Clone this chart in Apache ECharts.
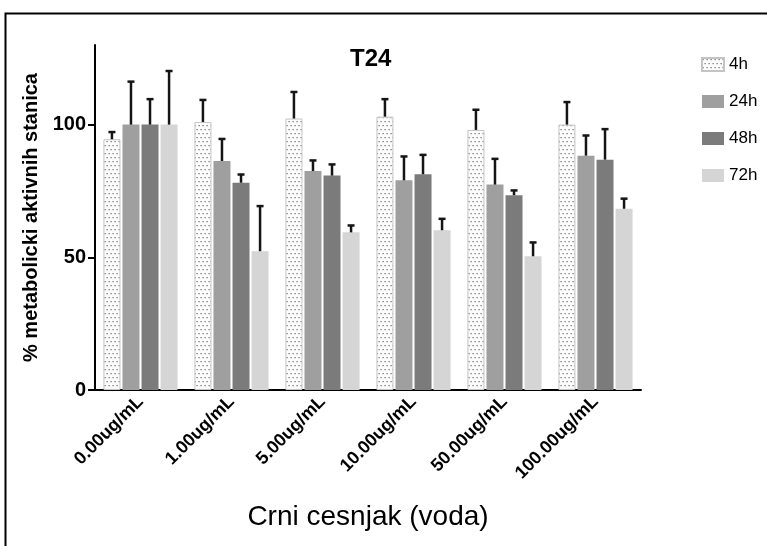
<!DOCTYPE html>
<html>
<head>
<meta charset="utf-8">
<script src="https://cdn.jsdelivr.net/npm/echarts@6/dist/echarts.min.js"></script>
<style>
  body { margin: 0; background: #fff; }
  #chart { width: 767px; height: 546px; }
</style>
</head>
<body>
<div id="chart"></div>
<script>
const categories = ['0.00ug/mL', '1.00ug/mL', '5.00ug/mL', '10.00ug/mL', '50.00ug/mL', '100.00ug/mL']
const timeNames = ['4h', '24h', '48h', '72h']
const mean4h = [94.5, 101, 102.3, 103, 98, 100]
const sd4h = [2.7, 8.3, 10, 6.6, 7.6, 8.5]
const mean24h = [100, 86.3, 82.5, 79, 77.4, 88.3]
const sd24h = [16.2, 8.3, 4, 9, 9.7, 7.6]
const mean48h = [100, 78.1, 80.8, 81.3, 73.4, 86.8]
const sd48h = [9.6, 3.1, 4.2, 7.3, 1.8, 11.5]
const mean72h = [100, 52.3, 59.4, 60.2, 50.4, 68.3]
const sd72h = [20.2, 17, 2.6, 4.3, 5.2, 3.8]
const yTicks = [0, 50, 100]

const means = [mean4h, mean24h, mean48h, mean72h]
const sds = [sd4h, sd24h, sd48h, sd72h]

const font = 'Liberation Sans, Arial, sans-serif'
const barWidth = 17
const barGap = 0.12

// dotted fill for the 4h bars
const dots = document.createElement('canvas')
dots.width = 4
dots.height = 8
const ctx = dots.getContext('2d')
ctx.fillStyle = '#fcfcfc'
ctx.fillRect(0, 0, 4, 8)
ctx.fillStyle = '#6a6a6a'
ctx.fillRect(0.5, 1, 1.2, 1.2)
ctx.fillRect(2.5, 5, 1.2, 1.2)

const fills = [
  { image: dots, repeat: 'repeat' },
  '#9f9f9f',
  '#7b7b7b',
  '#d5d5d5',
]

let seriesData = []
timeNames.forEach((name, i) => {
  let obj = {
    name: name,
    type: 'bar',
    barWidth: barWidth,
    barGap: barGap * 100 + '%',
    data: means[i],
    itemStyle: { color: fills[i] },
  }
  if (i === 0) {
    obj.itemStyle.borderColor = '#c4c4c4'
    obj.itemStyle.borderWidth = 1
  }
  seriesData.push(obj)
})

// upper error bars
timeNames.forEach((name, i) => {
  const offset = (i - 1.5) * barWidth * (1 + barGap)
  seriesData.push({
    name: 'err' + name,
    type: 'custom',
    z: 5,
    data: means[i].map((m, k) => [k, m, sds[i][k]]),
    renderItem: (params, api) => {
      const base = api.coord([api.value(0), api.value(1)])
      const top = api.coord([api.value(0), api.value(1) + api.value(2)])
      const cx = base[0] + offset
      const style = { stroke: '#151515', lineWidth: 2.5 }
      return {
        type: 'group',
        children: [
          { type: 'line', shape: { x1: cx, y1: base[1], x2: cx, y2: top[1] }, style: style },
          { type: 'line', shape: { x1: cx - 3.5, y1: top[1], x2: cx + 3.5, y2: top[1] }, style: style },
        ],
      }
    },
  })
})

const chart = echarts.init(document.getElementById('chart'))
chart.setOption({
  animation: false,
  backgroundColor: '#fff',
  textStyle: { fontFamily: font, color: '#000' },
  title: {
    text: 'T24',
    left: 345,
    top: 42,
    textStyle: { fontSize: 24, fontWeight: 'bold', color: '#000', fontFamily: font },
  },
  legend: {
    data: timeNames,
    orient: 'vertical',
    left: 696,
    top: 51,
    itemWidth: 22,
    itemHeight: 13,
    itemGap: 20,
    icon: 'rect',
    textStyle: { fontSize: 17, color: '#000', fontFamily: font },
  },
  graphic: [
    {
      type: 'polyline',
      shape: { points: [[5.5, 546], [5.5, 13.5], [767, 13.5]] },
      style: { stroke: '#000', lineWidth: 2, fill: null },
    },
  ],
  grid: { left: 95, right: 126, top: 45, bottom: 156 },
  xAxis: {
    type: 'category',
    data: categories,
    name: 'Crni cesnjak (voda)',
    nameLocation: 'middle',
    nameGap: 113,
    nameTextStyle: { fontSize: 28, color: '#000', fontFamily: font },
    axisLine: { lineStyle: { color: '#000', width: 2 } },
    axisTick: { alignWithLabel: true, length: 7, lineStyle: { color: '#000', width: 2 } },
    axisLabel: { rotate: 45, margin: 9, fontSize: 18, fontWeight: 'bold', color: '#000', fontFamily: font },
  },
  yAxis: {
    type: 'value',
    min: 0,
    max: 130,
    interval: 50,
    name: '% metabolicki aktivnih stanica',
    nameLocation: 'middle',
    nameRotate: 90,
    nameGap: 47,
    nameTextStyle: { fontSize: 20, fontWeight: 'bold', color: '#000', fontFamily: font },
    splitLine: { show: false },
    axisLine: { show: true, lineStyle: { color: '#000', width: 2 } },
    axisTick: { show: true, length: 7, customValues: yTicks, lineStyle: { color: '#000', width: 2 } },
    axisLabel: { margin: 9, fontSize: 20, fontWeight: 'bold', color: '#000', fontFamily: font, customValues: yTicks },
  },
  series: seriesData,
})
</script>
</body>
</html>
